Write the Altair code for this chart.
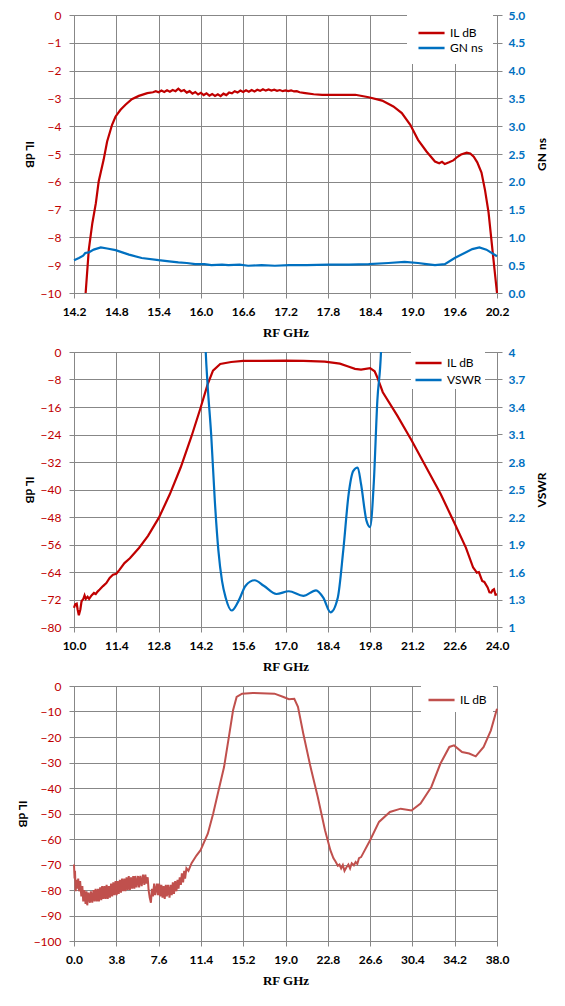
import altair as alt
import pandas as pd

RED = "#C00000"
BLUE = "#0070C0"
RED3 = "#C0504D"
GRID = "#878787"

# ---------------- Chart 1: IL dB and GN ns, 14.2-20.2 GHz ----------------
c1_il_f = [14.365, 14.41, 14.46, 14.51, 14.55, 14.62, 14.67, 14.74, 14.79, 14.86,
           14.93, 15.02, 15.12, 15.24, 15.32, 15.36, 15.40, 15.44, 15.48, 15.52,
           15.56, 15.60, 15.64, 15.68, 15.72, 15.76, 15.80, 15.84, 15.88, 15.92,
           15.96, 16.00, 16.04, 16.08, 16.12, 16.16, 16.20, 16.24, 16.28, 16.32,
           16.36, 16.40, 16.44, 16.48, 16.52, 16.56, 16.60, 16.64, 16.68, 16.72,
           16.76, 16.80, 16.84, 16.88, 16.92, 16.96, 17.00, 17.04, 17.08, 17.12,
           17.16, 17.20, 17.24, 17.28, 17.32, 17.36, 17.40, 17.48, 17.60, 17.72,
           17.95, 18.19, 18.38, 18.57, 18.73, 18.85, 18.97, 19.08, 19.20, 19.32,
           19.38, 19.42, 19.46, 19.52, 19.58, 19.64, 19.69, 19.77, 19.82, 19.87,
           19.92, 19.98, 20.03, 20.08, 20.15, 20.20]
c1_il_v = [-10.0, -8.44, -7.49, -6.77, -5.99, -5.21, -4.55, -3.95, -3.65, -3.41,
           -3.23, -3.03, -2.91, -2.81, -2.78, -2.74, -2.78, -2.72, -2.77, -2.71,
           -2.76, -2.70, -2.74, -2.65, -2.74, -2.70, -2.79, -2.74, -2.83, -2.77,
           -2.86, -2.80, -2.88, -2.82, -2.90, -2.84, -2.91, -2.85, -2.92, -2.83,
           -2.88, -2.79, -2.82, -2.74, -2.79, -2.72, -2.77, -2.71, -2.76, -2.70,
           -2.75, -2.69, -2.73, -2.67, -2.72, -2.68, -2.72, -2.69, -2.73, -2.70,
           -2.74, -2.71, -2.74, -2.71, -2.75, -2.74, -2.78, -2.81, -2.85, -2.87,
           -2.87, -2.87, -2.96, -3.08, -3.29, -3.53, -3.95, -4.49, -4.91, -5.27,
           -5.33, -5.28, -5.36, -5.30, -5.23, -5.10, -5.02, -4.95, -4.98, -5.10,
           -5.30, -5.67, -6.30, -7.10, -8.80, -10.0]

c1_gn_f = [14.20, 14.27, 14.33, 14.36, 14.41, 14.48, 14.58, 14.67, 14.79, 14.98,
           15.16, 15.40, 15.55, 15.68, 15.80, 15.92, 16.05, 16.15, 16.30, 16.39,
           16.55, 16.67, 16.86, 17.05, 17.25, 17.50, 17.81, 18.10, 18.38, 18.66,
           18.89, 19.08, 19.20, 19.32, 19.46, 19.60, 19.74, 19.85, 19.95, 20.05,
           20.20]
c1_gn_v = [0.59, 0.63, 0.67, 0.72, 0.73, 0.78, 0.82, 0.80, 0.77, 0.69,
           0.63, 0.59, 0.57, 0.55, 0.54, 0.52, 0.52, 0.50, 0.51, 0.50,
           0.51, 0.49, 0.50, 0.49, 0.50, 0.50, 0.51, 0.51, 0.52, 0.54,
           0.56, 0.54, 0.52, 0.50, 0.52, 0.63, 0.72, 0.79, 0.82, 0.78,
           0.66]

# ---------------- Chart 2: IL dB and VSWR, 10-24 GHz ----------------
c2_il_f = [10.0, 10.04, 10.09, 10.12, 10.16, 10.21, 10.25, 10.31, 10.35, 10.39,
           10.45, 10.5, 10.58, 10.66, 10.72, 10.78, 10.85, 10.96, 11.07, 11.18,
           11.29, 11.4, 11.51, 11.67, 11.85, 12.15, 12.45, 12.81, 13.17, 13.53,
           13.89, 14.18, 14.42, 14.6, 14.84, 15.2, 15.6, 16.2, 17.0, 17.6,
           18.3, 18.8, 19.1, 19.3, 19.5, 19.8, 19.95, 20.04, 20.22, 20.7,
           21.18, 21.66, 22.14, 22.61, 22.97, 23.21, 23.28, 23.33, 23.4, 23.51,
           23.58, 23.69, 23.75, 23.81, 23.85, 23.9, 23.95, 24.0]
c2_il_v = [-74.4, -73.4, -73.2, -74.9, -76.6, -74.9, -72.5, -71.8, -70.8, -71.8,
           -71.2, -71.8, -70.8, -70.1, -70.4, -69.7, -69.1, -68.1, -67.2, -65.7,
           -64.8, -64.5, -63.3, -61.4, -60.0, -57.0, -53.5, -48.2, -41.4, -33.6,
           -24.5, -16.5, -9.5, -5.4, -3.5, -2.9, -2.6, -2.6, -2.5, -2.6,
           -2.8, -3.4, -4.3, -4.9, -5.1, -4.7, -5.6, -7.4, -11.7, -18.5,
           -25.8, -33.6, -41.4, -50.1, -56.9, -62.7, -63.5, -64.2, -64.0, -66.6,
           -66.9, -68.5, -69.9, -70.0, -69.3, -69.0, -70.6, -70.5]

c2_vs_f = [14.30, 14.36, 14.42, 14.54, 14.66, 14.78, 14.90, 15.02, 15.22, 15.44,
           15.68, 15.98, 16.28, 16.70, 17.11, 17.59, 18.01, 18.25, 18.49, 18.73,
           18.91, 19.09, 19.24, 19.39, 19.50, 19.68, 19.80, 19.92, 20.04, 20.16,
           20.22]
c2_vs_v = [4.60, 4.00, 3.65, 3.10, 2.38, 1.83, 1.50, 1.32, 1.18, 1.28,
           1.45, 1.51, 1.45, 1.36, 1.39, 1.34, 1.40, 1.32, 1.16, 1.32,
           1.83, 2.45, 2.70, 2.74, 2.56, 2.16, 2.09, 2.56, 3.47, 4.00,
           4.60]

# ---------------- Chart 3: IL dB, 0-38 GHz ----------------
c3_il_f = [0.0, 0.05, 0.09, 0.15, 0.21, 0.3, 0.38, 0.45, 0.55, 0.66,
           0.75, 0.83, 0.92, 1.04, 1.12, 1.19, 1.3, 1.43, 1.52, 1.64,
           1.75, 1.85, 1.94, 2.05, 2.15, 2.24, 2.35, 2.45, 2.53, 2.63,
           2.73, 2.83, 2.93, 3.03, 3.13, 3.23, 3.33, 3.43, 3.53, 3.63,
           3.73, 3.83, 3.92, 4.02, 4.12, 4.22, 4.32, 4.42, 4.52, 4.62,
           4.72, 4.82, 4.92, 5.02, 5.12, 5.22, 5.32, 5.42, 5.51, 5.62,
           5.75, 5.85, 5.96, 6.08, 6.2, 6.32, 6.41, 6.52, 6.62, 6.7,
           6.8, 6.91, 7.0, 7.09, 7.2, 7.3, 7.45, 7.55, 7.65, 7.75,
           7.85, 7.95, 8.05, 8.15, 8.25, 8.34, 8.45, 8.58, 8.68, 8.78,
           8.88, 8.98, 9.09, 9.2, 9.3, 9.39, 9.5, 9.6, 9.69, 9.8,
           9.9, 9.98, 10.1, 10.28, 10.56, 11.0, 11.37, 12.02, 12.5, 12.99,
           13.48, 13.96, 14.29, 14.61, 15.1, 16.07, 18.01, 18.82, 19.31, 19.79,
           20.12, 20.6, 21.25, 21.9, 22.55, 23.03, 23.3, 23.52, 23.7, 23.85,
           24.0, 24.15, 24.3, 24.49, 24.65, 24.8, 24.95, 25.14, 25.3, 25.45,
           25.6, 25.79, 26.6, 27.4, 28.38, 29.35, 30.32, 31.13, 32.1, 32.91,
           33.72, 34.14, 34.86, 35.5, 36.09, 36.8, 37.45, 38.0]
c3_il_v = [-70.0, -75.5, -72.5, -80.5, -76.0, -79.5, -75.5, -80.5, -76.5, -82.5,
           -78.5, -84.5, -80.0, -85.5, -80.5, -86.0, -81.0, -85.0, -80.5, -85.0,
           -80.0, -84.5, -79.5, -84.5, -79.5, -84.5, -79.0, -84.0, -78.5, -83.5,
           -78.5, -83.5, -78.0, -83.5, -78.5, -83.0, -77.5, -82.5, -77.0, -82.0,
           -76.5, -82.0, -76.5, -81.5, -76.0, -81.0, -75.5, -80.5, -75.5, -80.5,
           -75.0, -80.0, -74.5, -80.0, -75.0, -79.5, -74.5, -79.5, -74.5, -79.0,
           -74.5, -79.0, -74.5, -78.5, -74.0, -78.0, -74.0, -77.5, -75.0, -80.0,
           -83.0, -85.0, -79.5, -82.5, -77.5, -82.0, -77.5, -82.0, -77.5, -82.5,
           -78.0, -83.0, -78.5, -83.5, -78.0, -82.5, -78.0, -83.0, -78.0, -82.0,
           -77.0, -81.5, -76.5, -80.5, -76.0, -79.5, -75.0, -78.0, -73.5, -77.0,
           -72.5, -75.5, -71.5, -72.5, -69.5, -66.5, -64.4, -57.9, -50.1, -40.9,
           -31.8, -18.7, -9.5, -4.3, -3.0, -2.7, -3.0, -4.3, -5.2, -5.0,
           -8.2, -18.7, -31.8, -43.5, -56.6, -64.4, -67.5, -69.0, -70.5, -70.0,
           -71.5, -70.2, -72.5, -71.0, -70.0, -71.5, -69.5, -70.3, -69.0, -69.8,
           -67.5, -67.1, -60.5, -53.3, -49.4, -48.1, -48.8, -46.1, -39.6, -30.5,
           -23.9, -23.3, -25.9, -26.5, -27.6, -23.9, -17.4, -8.9]

# ---------------- axis ticks ----------------
x1_ticks = [14.2, 14.8, 15.4, 16.0, 16.6, 17.2, 17.8, 18.4, 19.0, 19.6, 20.2]
y1_ticks = [-10, -9, -8, -7, -6, -5, -4, -3, -2, -1, 0]
r1_ticks = [0.0, 0.5, 1.0, 1.5, 2.0, 2.5, 3.0, 3.5, 4.0, 4.5, 5.0]
x2_ticks = [10.0, 11.4, 12.8, 14.2, 15.6, 17.0, 18.4, 19.8, 21.2, 22.6, 24.0]
y2_ticks = [-80, -72, -64, -56, -48, -40, -32, -24, -16, -8, 0]
r2_ticks = [1, 1.3, 1.6, 1.9, 2.2, 2.5, 2.8, 3.1, 3.4, 3.7, 4]
x3_ticks = [0.0, 3.8, 7.6, 11.4, 15.2, 19.0, 22.8, 26.6, 30.4, 34.2, 38.0]
y3_ticks = [-100, -90, -80, -70, -60, -50, -40, -30, -20, -10, 0]

W = 423
SANS = "Lato"
SERIF = "Liberation Serif"
LEGEND_SHAPE = "M-1,0L3,0"


def xaxis(vals):
    return alt.Axis(values=vals, format=".1f", title="RF GHz", grid=True,
                    gridColor=GRID, domainColor=GRID, tickColor=GRID, tickSize=5,
                    labelFont=SANS, labelFontSize=12, labelFontWeight="bold",
                    labelColor="black", labelPadding=8, labelFlush=False,
                    titleFont=SERIF, titleFontSize=13, titleFontWeight="bold",
                    titleColor="black", titlePadding=9)


def laxis(vals):
    return alt.Axis(values=vals, title="IL dB", grid=True, orient="left",
                    gridColor=GRID, domainColor=GRID, tickColor=GRID, tickSize=5,
                    labelFont=SANS, labelFontSize=12, labelColor=RED,
                    labelPadding=8, labelFlush=False,
                    titleFont=SANS, titleFontSize=12, titleFontWeight="bold",
                    titleColor="black", titleAngle=90, titleBaseline="top",
                    titlePadding=6)


def raxis(vals, title, fmt):
    return alt.Axis(values=vals, title=title, grid=False, orient="right", format=fmt,
                    domainColor=GRID, tickColor=GRID, tickSize=5,
                    labelFont=SANS, labelFontSize=12, labelFontWeight="bold",
                    labelColor=BLUE, labelPadding=6, labelFlush=False,
                    titleFont=SANS, titleFontSize=12, titleFontWeight="bold",
                    titleColor="black", titleAngle=-90, titleBaseline="top",
                    titlePadding=12)


def legend(x, y, pad, rowpad):
    return alt.Legend(title=None, orient="none", legendX=x, legendY=y,
                      fillColor="white", padding=pad, rowPadding=rowpad,
                      symbolType=LEGEND_SHAPE, symbolSize=170, symbolStrokeWidth=2.5,
                      labelFont=SANS, labelFontSize=12, labelColor="black",
                      labelOffset=17)


def frame(f, v, s):
    return pd.DataFrame({"f": f, "v": v, "s": s})


# Chart 1
d1a = frame(c1_il_f, c1_il_v, "IL dB")
d1b = frame(c1_gn_f, c1_gn_v, "GN ns")
col1 = alt.Color("s:N", scale=alt.Scale(domain=["IL dB", "GN ns"], range=[RED, BLUE]),
                 legend=legend(333, 0, 10, 1))
x1 = alt.X("f:Q", scale=alt.Scale(domain=[14.2, 20.2], nice=False), axis=xaxis(x1_ticks))
l1a = alt.Chart(d1a).mark_line(strokeWidth=2.2).encode(
    x=x1, y=alt.Y("v:Q", scale=alt.Scale(domain=[-10, 0], nice=False), axis=laxis(y1_ticks)),
    color=col1, order="f:Q")
l1b = alt.Chart(d1b).mark_line(strokeWidth=2.2).encode(
    x=x1, y=alt.Y("v:Q", scale=alt.Scale(domain=[0, 5], nice=False),
                  axis=raxis(r1_ticks, "GN ns", ".1f")),
    color=col1, order="f:Q")
c1 = alt.layer(l1a, l1b).resolve_scale(y="independent").properties(width=W, height=278)

# Chart 2
d2a = frame(c2_il_f, c2_il_v, "IL dB")
d2b = frame(c2_vs_f, c2_vs_v, "VSWR")
col2 = alt.Color("s:N", scale=alt.Scale(domain=["IL dB", "VSWR"], range=[RED, BLUE]),
                 legend=legend(337, 0, 3, 3))
x2 = alt.X("f:Q", scale=alt.Scale(domain=[10, 24], nice=False), axis=xaxis(x2_ticks))
l2a = alt.Chart(d2a).mark_line(strokeWidth=2.2).encode(
    x=x2, y=alt.Y("v:Q", scale=alt.Scale(domain=[-80, 0], nice=False), axis=laxis(y2_ticks)),
    color=col2, order="f:Q")
l2b = alt.Chart(d2b).mark_line(strokeWidth=2.2, clip=True, interpolate="monotone").encode(
    x=x2, y=alt.Y("v:Q", scale=alt.Scale(domain=[1, 4], nice=False),
                  axis=raxis(r2_ticks, "VSWR", ".1~f")),
    color=col2, order="f:Q")
c2 = alt.layer(l2a, l2b).resolve_scale(y="independent").properties(width=W, height=275)

# Chart 3
d3 = frame(c3_il_f, c3_il_v, "IL dB")
col3 = alt.Color("s:N", scale=alt.Scale(domain=["IL dB"], range=[RED3]),
                 legend=legend(347, 0, 6, 1))
c3 = alt.Chart(d3).mark_line(strokeWidth=2.0).encode(
    x=alt.X("f:Q", scale=alt.Scale(domain=[0, 38], nice=False), axis=xaxis(x3_ticks)),
    y=alt.Y("v:Q", scale=alt.Scale(domain=[-100, 0], nice=False), axis=laxis(y3_ticks)),
    color=col3, order="f:Q").properties(width=W, height=255)

chart = alt.vconcat(c1, c2, c3, spacing=5).resolve_scale(
    x="independent", y="independent", color="independent"
).resolve_legend(color="independent").properties(
    padding={"left": 7, "top": 0, "right": 5, "bottom": 5}
).configure_view(stroke=None).configure(background="white")

chart.save("out.html", embed_options={"renderer": "svg", "actions": False})
